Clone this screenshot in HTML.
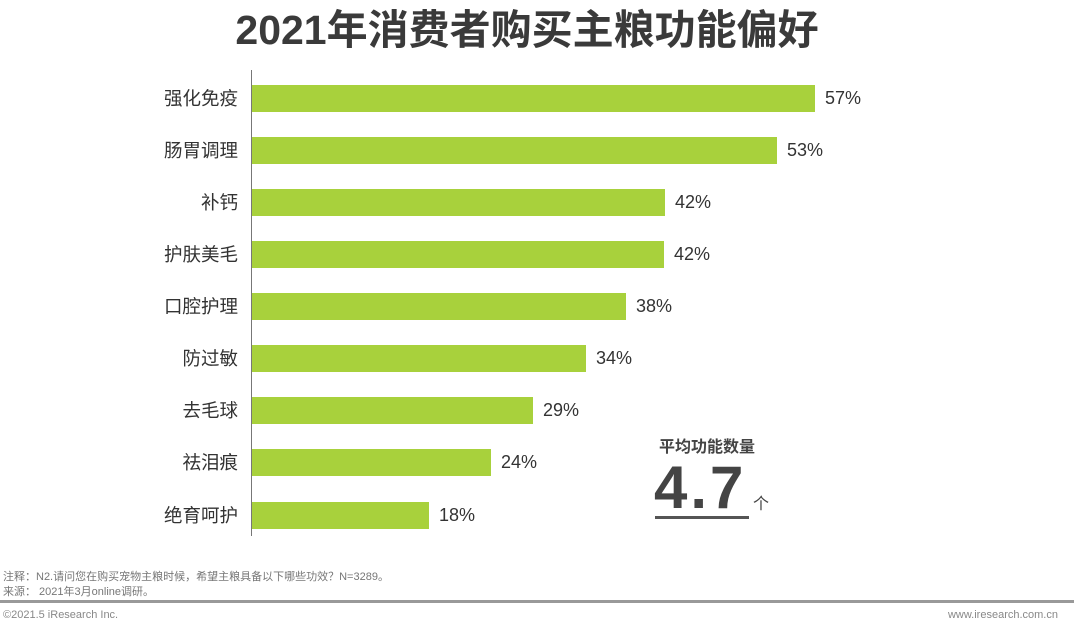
<!DOCTYPE html>
<html><head><meta charset="utf-8"><style>
body{margin:0;width:1074px;height:635px;background:#fff;font-family:"Liberation Sans","Noto Sans CJK SC",sans-serif;position:relative;overflow:hidden;color:#404040}
.a{position:absolute;white-space:nowrap}
.bar{position:absolute;left:252px;height:27px;background:#a8d13c}
.lab{position:absolute;right:836px;font-size:18.5px;color:#333;line-height:27px}
.val{position:absolute;font-size:18px;color:#333;line-height:27px}
</style></head><body>
<div class="a" style="left:0;width:1054px;text-align:center;top:-4px;font-size:41px;font-weight:bold;color:#3a3a3a">2021年消费者购买主粮功能偏好</div>
<div class="a" style="left:251px;top:70px;width:1px;height:466px;background:#777"></div>

<div class="lab" style="top:85px">强化免疫</div><div class="bar" style="top:85px;width:563px"></div><div class="val" style="left:825px;top:85px">57%</div>
<div class="lab" style="top:137px">肠胃调理</div><div class="bar" style="top:137px;width:525px"></div><div class="val" style="left:787px;top:137px">53%</div>
<div class="lab" style="top:189px">补钙</div><div class="bar" style="top:189px;width:413px"></div><div class="val" style="left:675px;top:189px">42%</div>
<div class="lab" style="top:241px">护肤美毛</div><div class="bar" style="top:241px;width:412px"></div><div class="val" style="left:674px;top:241px">42%</div>
<div class="lab" style="top:293px">口腔护理</div><div class="bar" style="top:293px;width:374px"></div><div class="val" style="left:636px;top:293px">38%</div>
<div class="lab" style="top:345px">防过敏</div><div class="bar" style="top:345px;width:334px"></div><div class="val" style="left:596px;top:345px">34%</div>
<div class="lab" style="top:397px">去毛球</div><div class="bar" style="top:397px;width:281px"></div><div class="val" style="left:543px;top:397px">29%</div>
<div class="lab" style="top:449px">祛泪痕</div><div class="bar" style="top:449px;width:239px"></div><div class="val" style="left:501px;top:449px">24%</div>
<div class="lab" style="top:502px">绝育呵护</div><div class="bar" style="top:502px;width:177px"></div><div class="val" style="left:439px;top:502px">18%</div>

<div class="a" style="left:659px;top:433px;font-size:16px;font-weight:bold;color:#444">平均功能数量</div>
<div class="a" style="left:654px;top:456px;font-size:60px;font-weight:bold;color:#444;line-height:64px;letter-spacing:3px">4.7</div>
<div class="a" style="left:753px;top:490px;font-size:16px;color:#444">个</div>
<div class="a" style="left:655px;top:516px;width:94px;height:3px;background:#555"></div>

<div class="a" style="left:3px;top:568px;font-size:11px;color:#777">注释：N2.请问您在购买宠物主粮时候，希望主粮具备以下哪些功效？N=3289。</div>
<div class="a" style="left:3px;top:583px;font-size:11px;color:#777">来源： 2021年3月online调研。</div>
<div class="a" style="left:0;top:600px;width:1074px;height:3px;background:#999"></div>
<div class="a" style="left:3px;top:609px;font-size:11px;color:#888">©2021.5 iResearch Inc.</div>
<div class="a" style="right:16px;top:609px;font-size:11px;color:#888">www.iresearch.com.cn</div>
</body></html>
